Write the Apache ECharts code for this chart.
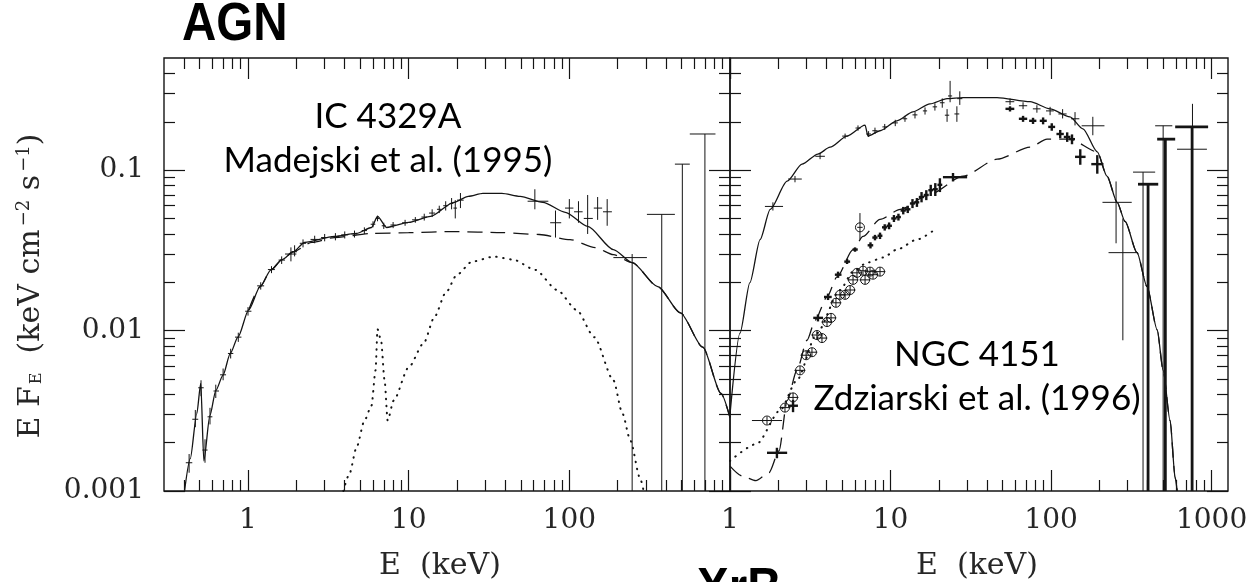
<!DOCTYPE html>
<html>
<head>
<meta charset="utf-8">
<script src="https://cdn.jsdelivr.net/npm/echarts@6/dist/echarts.min.js"></script>
<style>
  html, body { margin: 0; padding: 0; background: #fff; }
  #chart { width: 1252px; height: 582px; }
</style>
</head>
<body>
<div id="chart"></div>
<script>
// ---------- axis ranges and tick labels ----------
const leftEnergyRange = [0.3, 1000];
const rightEnergyRange = [1, 1265];
const fluxRange = [0.001, 0.5];
const leftEnergyLabels = [1, 10, 100];
const rightEnergyLabels = [1, 10, 100, 1000];
const fluxLabels = [0.001, 0.01, 0.1];

// ---------- IC 4329A : model curves [E (keV), E F_E] ----------
const icTotal = [
  [0.40, 0.00095], [0.437, 0.00159], [0.48, 0.00304], [0.508, 0.00469], [0.531, 0.00154],
  [0.579, 0.00295], [0.631, 0.00424], [0.698, 0.00526], [0.777, 0.00723], [0.866, 0.0091],
  [1.01, 0.01345], [1.19, 0.01877], [1.39, 0.0239], [1.63, 0.0277], [1.91, 0.031],
  [2.25, 0.0354], [3.45, 0.0386], [4.73, 0.0403], [5.87, 0.0439], [6.4, 0.0515],
  [7.29, 0.0439], [10, 0.0472], [13.7, 0.0515], [19.1, 0.063], [23.5, 0.0687],
  [29, 0.0717], [38, 0.0717], [49.4, 0.0687], [68.4, 0.063], [94.4, 0.0546],
  [130, 0.0446], [188, 0.032], [246, 0.0265], [355, 0.0188], [491, 0.0129],
  [677, 0.00788], [879, 0.00406], [1000, 0.00287]
];
const icContinuum = [
  [1.01, 0.01345], [1.19, 0.01877], [1.39, 0.0239], [1.63, 0.0277], [1.91, 0.031],
  [2.5, 0.0355], [3.45, 0.038], [5.87, 0.0403], [10, 0.0408], [19.1, 0.0414],
  [38, 0.0408], [65, 0.0397], [101, 0.0369], [145, 0.0329], [188, 0.0297],
  [246, 0.0265], [355, 0.0188], [491, 0.0129], [677, 0.00788], [879, 0.00406], [1000, 0.00287]
];
const icReflection = [
  [3.92, 0.001], [4.28, 0.00128], [4.73, 0.00186], [5.31, 0.00275], [5.87, 0.00341],
  [6.22, 0.00565], [6.4, 0.0102], [6.73, 0.0087], [7.08, 0.0049], [7.4, 0.00275],
  [8.06, 0.00366], [10, 0.0059], [12.4, 0.00835], [14.5, 0.0122], [17, 0.0172],
  [20, 0.0223], [24.8, 0.0269], [34, 0.0289], [44.7, 0.0277], [61.3, 0.0239],
  [84, 0.0179], [111, 0.01345], [143, 0.0091], [188, 0.0049], [214, 0.00304],
  [240, 0.00206], [275, 0.00121], [290, 0.001]
];

// ---------- IC 4329A : measurements [E, F, E low, E high, F low, F high] ----------
const icSoftData = [
  [0.43, 0.0015, 0.41, 0.45, 0.0013, 0.0017], [0.47, 0.0028, 0.45, 0.49, 0.0025, 0.0032],
  [0.51, 0.0044, 0.49, 0.53, 0.0039, 0.0049], [0.54, 0.0018, 0.52, 0.56, 0.0015, 0.0021],
  [0.58, 0.0029, 0.56, 0.60, 0.0026, 0.0033], [0.63, 0.0042, 0.61, 0.66, 0.0038, 0.0046],
  [0.70, 0.0053, 0.67, 0.73, 0.0049, 0.0058], [0.78, 0.0072, 0.75, 0.81, 0.0067, 0.0077],
  [0.87, 0.0091, 0.83, 0.91, 0.0085, 0.0097], [1.0, 0.0132, 0.96, 1.05, 0.0124, 0.014],
  [1.2, 0.019, 1.14, 1.26, 0.018, 0.020], [1.4, 0.024, 1.33, 1.47, 0.0228, 0.0252],
  [1.62, 0.0275, 1.55, 1.7, 0.026, 0.029], [1.85, 0.030, 1.70, 2.0, 0.027, 0.033],
  [1.95, 0.031, 1.90, 2.02, 0.029, 0.034], [2.2, 0.035, 2.1, 2.3, 0.033, 0.037],
  [2.6, 0.037, 2.45, 2.75, 0.035, 0.039], [3.0, 0.038, 2.85, 3.15, 0.036, 0.040],
  [3.5, 0.0385, 3.3, 3.7, 0.0365, 0.0405], [4.0, 0.0395, 3.8, 4.2, 0.0375, 0.0415],
  [4.6, 0.040, 4.4, 4.8, 0.038, 0.042], [5.3, 0.042, 5.1, 5.5, 0.040, 0.044],
  [6.0, 0.046, 5.8, 6.2, 0.044, 0.048], [6.4, 0.050, 6.25, 6.55, 0.048, 0.052],
  [7.0, 0.045, 6.8, 7.2, 0.043, 0.047], [8.0, 0.0455, 7.7, 8.3, 0.0435, 0.0475],
  [9.5, 0.047, 9.1, 9.9, 0.045, 0.049], [11, 0.049, 10.5, 11.5, 0.047, 0.051],
  [12.5, 0.051, 12, 13, 0.0485, 0.0535], [14, 0.054, 13.4, 14.6, 0.051, 0.057],
  [15.5, 0.057, 15, 16, 0.054, 0.060], [17, 0.060, 16.4, 17.6, 0.056, 0.064],
  [18.5, 0.062, 18, 19, 0.057, 0.067], [19.5, 0.058, 19, 20, 0.050, 0.065],
  [21, 0.065, 20, 22, 0.058, 0.072]
];
const icHardData = [
  [61, 0.064, 55, 74, 0.057, 0.076], [82, 0.047, 76, 89, 0.038, 0.056],
  [100, 0.058, 94, 106, 0.050, 0.066], [114, 0.055, 107, 121, 0.047, 0.064],
  [130, 0.050, 123, 140, 0.040, 0.070], [150, 0.058, 142, 160, 0.049, 0.068],
  [172, 0.055, 162, 184, 0.045, 0.066]
];
const icUpperLimits = [
  [246, 0.0285, 188, 304, 0.001, 0.030], [376, 0.053, 304, 454, 0.001, 0.053],
  [505, 0.109, 454, 562, 0.001, 0.109], [698, 0.168, 562, 812, 0.001, 0.168]
];

// ---------- NGC 4151 : model curves ----------
const ngcTotal = [
  [1.0, 0.0030], [1.154, 0.00964], [1.33, 0.0199], [1.54, 0.0369], [1.78, 0.0569],
  [2.27, 0.0853], [2.81, 0.109], [3.53, 0.126], [4.2, 0.139], [5.36, 0.163],
  [6.94, 0.191], [7.24, 0.163], [8.6, 0.176], [10.97, 0.203], [13.8, 0.231],
  [17.6, 0.259], [22.5, 0.279], [28.3, 0.283], [46.1, 0.283], [74, 0.267],
  [98.6, 0.241], [131, 0.215], [158, 0.181], [194, 0.13], [223, 0.0917],
  [258, 0.063], [289, 0.0479], [343, 0.0306], [396, 0.0188], [458, 0.0101],
  [499, 0.00565], [551, 0.00275], [593, 0.00121], [610, 0.001]
];
const ngcAbsorbed = [
  [1.0, 0.00143], [1.19, 0.00124], [1.45, 0.00116], [1.75, 0.0013], [2.02, 0.00178],
  [2.27, 0.00366], [2.61, 0.00565], [3.02, 0.0087], [3.39, 0.0116], [4.02, 0.0162],
  [4.64, 0.0216], [5.84, 0.032], [6.74, 0.0386], [8.6, 0.0493], [11.5, 0.0569],
  [17.6, 0.0708], [28.3, 0.0917], [46.1, 0.117], [74, 0.139], [94.4, 0.156],
  [131, 0.156], [194, 0.13], [223, 0.0917], [258, 0.063], [289, 0.0479],
  [343, 0.0306], [396, 0.0188], [458, 0.0101], [499, 0.00565], [551, 0.00275],
  [593, 0.00121], [610, 0.001]
];
const ngcSoft = [
  [1.0, 0.00154], [1.47, 0.00197], [2.05, 0.00318], [2.61, 0.0049], [3.48, 0.00964],
  [4.84, 0.0179], [5.84, 0.0233], [7.14, 0.0265], [8.98, 0.0285], [10.97, 0.032],
  [14.6, 0.0369], [18.9, 0.0427]
];

// ---------- NGC 4151 : measurements [E, F, E low, E high, F low, F high] ----------
const ngcHighData = [
  [1.85, 0.0594, 1.65, 2.14, 0.056, 0.063], [2.54, 0.088, 2.3, 2.8, 0.084, 0.092],
  [3.64, 0.122, 3.4, 3.9, 0.117, 0.127], [5.21, 0.163, 5.0, 5.45, 0.157, 0.169],
  [6.27, 0.183, 6.05, 6.5, 0.176, 0.19], [7.3, 0.168, 7.05, 7.55, 0.161, 0.175],
  [8.0, 0.176, 7.7, 8.3, 0.168, 0.184], [9.2, 0.186, 8.9, 9.5, 0.178, 0.194],
  [10.7, 0.197, 10.3, 11.1, 0.188, 0.206], [12.3, 0.209, 11.9, 12.7, 0.2, 0.218],
  [14.2, 0.221, 13.7, 14.7, 0.21, 0.232], [16.4, 0.234, 15.9, 16.9, 0.222, 0.246],
  [18.9, 0.248, 18.3, 19.5, 0.235, 0.261], [21, 0.263, 20.3, 21.7, 0.245, 0.28],
  [22.5, 0.22, 21.8, 23.2, 0.2, 0.24], [23.5, 0.29, 22.8, 24.2, 0.265, 0.36],
  [25.9, 0.224, 25, 26.8, 0.2, 0.25], [27, 0.279, 26, 28, 0.255, 0.31],
  [55.5, 0.267, 52, 59, 0.255, 0.28], [66.9, 0.252, 63, 71, 0.24, 0.265],
  [81.6, 0.241, 77, 86, 0.228, 0.254], [98.6, 0.234, 93, 104, 0.22, 0.248],
  [118, 0.224, 111, 125, 0.21, 0.24], [141, 0.209, 133, 150, 0.19, 0.23],
  [182, 0.189, 155, 215, 0.165, 0.215], [254, 0.063, 209, 318, 0.035, 0.085],
  [280, 0.0306, 228, 347, 0.0087, 0.05]
];
const ngcHighLimits = [
  [374, 0.0972, 324, 445, 0.001, 0.0972], [499, 0.189, 445, 569, 0.001, 0.189],
  [760, 0.135, 609, 935, 0.001, 0.259]
];
const ngcLowData = [
  [1.96, 0.00173, 1.70, 2.27, 0.0016, 0.00186], [2.47, 0.0034, 2.3, 2.65, 0.0031, 0.0037],
  [3.53, 0.012, 3.3, 3.8, 0.0114, 0.0126], [4.08, 0.0162, 3.85, 4.3, 0.0155, 0.017],
  [4.71, 0.0223, 4.5, 4.95, 0.0213, 0.0233], [5.36, 0.0269, 5.15, 5.6, 0.026, 0.028],
  [6.01, 0.032, 5.8, 6.25, 0.031, 0.033], [7.5, 0.034, 7.2, 7.8, 0.0325, 0.0355],
  [8.0, 0.038, 7.7, 8.3, 0.0365, 0.0395], [8.6, 0.039, 8.3, 8.9, 0.0372, 0.0408],
  [9.2, 0.044, 8.85, 9.55, 0.042, 0.046], [9.8, 0.045, 9.45, 10.2, 0.0428, 0.0472],
  [10.5, 0.050, 10.1, 10.9, 0.0475, 0.0525], [11.2, 0.051, 10.8, 11.6, 0.0485, 0.0535],
  [12.0, 0.056, 11.55, 12.45, 0.053, 0.059], [12.8, 0.057, 12.3, 13.3, 0.054, 0.060],
  [13.7, 0.062, 13.2, 14.2, 0.058, 0.066], [14.6, 0.063, 14.1, 15.1, 0.059, 0.067],
  [15.6, 0.068, 15.0, 16.2, 0.063, 0.073], [16.7, 0.070, 16.1, 17.3, 0.065, 0.075],
  [17.8, 0.075, 17.2, 18.4, 0.069, 0.081], [19.0, 0.076, 18.3, 19.7, 0.069, 0.083],
  [20.3, 0.081, 19.6, 21.0, 0.073, 0.089], [24.5, 0.0904, 21.2, 30, 0.085, 0.096],
  [55.5, 0.241, 52, 59, 0.232, 0.25], [66.9, 0.209, 63, 71, 0.2, 0.218],
  [77.2, 0.203, 73, 81, 0.194, 0.212], [89.2, 0.203, 85, 94, 0.193, 0.213],
  [101, 0.186, 96, 106, 0.176, 0.196], [114, 0.168, 108, 120, 0.158, 0.178],
  [126, 0.161, 120, 132, 0.15, 0.172], [135, 0.156, 129, 141, 0.145, 0.167],
  [152, 0.121, 141, 164, 0.108, 0.135], [194, 0.109, 178, 212, 0.095, 0.124]
];
const ngcLowLimits = [
  [402, 0.0817, 348, 465, 0.001, 0.0817], [515, 0.156, 458, 593, 0.001, 0.156],
  [756, 0.186, 593, 951, 0.001, 0.186]
];
const ngcSoftData = [
  [1.70, 0.00275, 1.37, 2.11, 0.0026, 0.0029], [2.2, 0.00331, 2.03, 2.38, 0.0031, 0.0035],
  [2.47, 0.00383, 2.28, 2.67, 0.0036, 0.0041], [2.73, 0.00565, 2.52, 2.95, 0.0053, 0.006],
  [2.98, 0.00702, 2.75, 3.22, 0.0066, 0.0075], [3.24, 0.00733, 2.99, 3.5, 0.0069, 0.0078],
  [3.48, 0.00938, 3.21, 3.76, 0.0088, 0.01], [3.74, 0.00898, 3.45, 4.04, 0.0084, 0.0096],
  [4.02, 0.0113, 3.71, 4.34, 0.0106, 0.012], [4.26, 0.012, 3.93, 4.6, 0.0113, 0.0128],
  [4.57, 0.0149, 4.22, 4.94, 0.014, 0.0159], [4.84, 0.0167, 4.47, 5.23, 0.0157, 0.0178],
  [5.21, 0.0167, 4.81, 5.63, 0.0157, 0.0178], [5.6, 0.0179, 5.17, 6.05, 0.0168, 0.0191],
  [5.84, 0.0207, 5.39, 6.31, 0.0195, 0.022], [6.18, 0.0229, 5.71, 6.67, 0.0215, 0.0244],
  [6.45, 0.044, 6.2, 6.7, 0.037, 0.054], [6.74, 0.0236, 6.22, 7.28, 0.0222, 0.0251],
  [6.94, 0.0207, 6.41, 7.5, 0.0195, 0.022], [7.45, 0.0233, 6.88, 8.05, 0.0219, 0.0248],
  [7.78, 0.0223, 7.18, 8.4, 0.021, 0.0237], [8.6, 0.0233, 7.94, 9.29, 0.0219, 0.0248]
];

// ---------- helpers ----------
const INK = '#141414';
const LABEL_INK = '#262626';
const SERIF = '"DejaVu Serif", serif';
const log10 = Math.log10;

function minorTicks(lo, hi) {
  const out = [];
  for (let d = -4; d <= 4; d++) {
    for (let m = 2; m <= 9; m++) {
      const v = m * Math.pow(10, d);
      if (v > lo * 1.0001 && v < hi * 0.9999) out.push(log10(v));
    }
  }
  return out;
}
function majorTicks(lo, hi) {
  const out = [];
  for (let d = -4; d <= 4; d++) {
    const v = Math.pow(10, d);
    if (v >= lo && v <= hi) out.push(d);
  }
  return out;
}
function energyText(v) { return String(Math.round(Math.pow(10, v))); }
function fluxText(v) { return Math.pow(10, v).toFixed(Math.max(0, -Math.round(v))); }

// Tick-only companion axis (in decades) laid over a log data axis
function tickAxis(gridIndex, position, range, major, labels, formatter) {
  const ticks = major ? majorTicks(range[0], range[1]) : minorTicks(range[0], range[1]);
  return {
    type: 'value', gridIndex, position,
    min: log10(range[0]), max: log10(range[1]),
    axisLine: { show: false, onZero: false }, splitLine: { show: false },
    axisTick: { show: true, inside: true, length: major ? 21 : 11, customValues: ticks,
                lineStyle: { color: INK, width: 1.2 } },
    axisLabel: labels ? {
      show: true, customValues: labels.map(log10), formatter,
      fontFamily: SERIF, fontSize: 28, color: LABEL_INK,
      margin: position === 'left' ? 20 : 16
    } : { show: false }
  };
}
function dataAxis(gridIndex, range) {
  return { type: 'log', logBase: 10, gridIndex, min: range[0], max: range[1], show: false,
           axisLine: { onZero: false } };
}

function errorBars(width, circleR) {
  return function (params, api) {
    const E = api.value(0), F = api.value(1);
    const a = api.coord([api.value(2), F]), b = api.coord([api.value(3), F]);
    const c = api.coord([E, api.value(4)]), d = api.coord([E, api.value(5)]);
    const style = { stroke: INK, lineWidth: width, fill: null };
    const children = [
      { type: 'line', shape: { x1: a[0], y1: a[1], x2: b[0], y2: b[1] }, style },
      { type: 'line', shape: { x1: c[0], y1: c[1], x2: d[0], y2: d[1] }, style }
    ];
    if (circleR) {
      const p = api.coord([E, F]);
      children.push({ type: 'circle', shape: { cx: p[0], cy: p[1], r: circleR },
                      style: { stroke: INK, lineWidth: 1, fill: null } });
    }
    return { type: 'group', children };
  };
}
function curve(axisIdx, data, kind) {
  const lineStyle = { color: INK, width: 1.3 };
  if (kind === 'dashed') { lineStyle.type = [15, 8]; }
  if (kind === 'dotted') { lineStyle.type = [0.5, 6.5]; lineStyle.cap = 'round'; lineStyle.width = 2; }
  return {
    type: 'line', xAxisIndex: axisIdx, yAxisIndex: axisIdx, data,
    showSymbol: false, symbol: 'none', smooth: 0.25, smoothMonotone: 'x',
    lineStyle, silent: true, animation: false, z: 3
  };
}
function points(axisIdx, data, width, circleR) {
  return {
    type: 'custom', xAxisIndex: axisIdx, yAxisIndex: axisIdx, data,
    encode: { x: 0, y: 1 }, renderItem: errorBars(width, circleR),
    silent: true, animation: false, z: 4
  };
}

const chart = echarts.init(document.getElementById('chart'), null, { renderer: 'canvas' });

const gridStyle = { show: true, borderColor: INK, borderWidth: 1.4, backgroundColor: 'transparent' };
const annotationFont = '35px Lato, "Open Sans", sans-serif';
const headingFont = 'bold 54px "Liberation Sans", Arial, sans-serif';

chart.setOption({
  animation: false,
  backgroundColor: '#ffffff',
  grid: [
    Object.assign({ left: 164, top: 58, width: 566, height: 433 }, gridStyle),
    Object.assign({ left: 730, top: 58, width: 498, height: 433 }, gridStyle)
  ],
  xAxis: [
    dataAxis(0, leftEnergyRange),
    tickAxis(0, 'bottom', leftEnergyRange, true, leftEnergyLabels, energyText),
    tickAxis(0, 'bottom', leftEnergyRange, false),
    tickAxis(0, 'top', leftEnergyRange, true),
    tickAxis(0, 'top', leftEnergyRange, false),
    dataAxis(1, rightEnergyRange),
    tickAxis(1, 'bottom', rightEnergyRange, true, rightEnergyLabels, energyText),
    tickAxis(1, 'bottom', rightEnergyRange, false),
    tickAxis(1, 'top', rightEnergyRange, true),
    tickAxis(1, 'top', rightEnergyRange, false)
  ],
  yAxis: [
    dataAxis(0, fluxRange),
    tickAxis(0, 'left', fluxRange, true, fluxLabels, fluxText),
    tickAxis(0, 'left', fluxRange, false),
    tickAxis(0, 'right', fluxRange, true),
    tickAxis(0, 'right', fluxRange, false),
    dataAxis(1, fluxRange),
    tickAxis(1, 'left', fluxRange, true),
    tickAxis(1, 'left', fluxRange, false),
    tickAxis(1, 'right', fluxRange, true),
    tickAxis(1, 'right', fluxRange, false)
  ],
  series: [
    curve(0, icTotal, 'solid'),
    curve(0, icContinuum, 'dashed'),
    curve(0, icReflection, 'dotted'),
    points(0, icSoftData, 1),
    points(0, icHardData, 1),
    points(0, icUpperLimits, 1),
    curve(5, ngcTotal, 'solid'),
    curve(5, ngcAbsorbed, 'dashed'),
    curve(5, ngcSoft, 'dotted'),
    points(5, ngcHighData, 1),
    points(5, ngcHighLimits, 1),
    points(5, ngcLowData, 2.4),
    points(5, ngcLowLimits, 2.8),
    points(5, ngcSoftData, 1, 4.5)
  ],
  graphic: [
    { type: 'text', x: 182, y: 25, scaleX: 0.88,
      style: { text: 'AGN', font: headingFont, fill: '#000', align: 'left', verticalAlign: 'middle' } },
    { type: 'text', x: 697, y: 590, scaleX: 0.88,
      style: { text: 'XrB', font: headingFont, fill: '#000', align: 'left', verticalAlign: 'middle' } },
    { type: 'text', x: 388, y: 117,
      style: { text: 'IC 4329A', font: annotationFont, fill: '#000', align: 'center', verticalAlign: 'middle' } },
    { type: 'text', x: 388, y: 161,
      style: { text: 'Madejski et al. (1995)', font: annotationFont, fill: '#000', align: 'center', verticalAlign: 'middle' } },
    { type: 'text', x: 977, y: 355,
      style: { text: 'NGC 4151', font: annotationFont, fill: '#000', align: 'center', verticalAlign: 'middle' } },
    { type: 'text', x: 977, y: 399,
      style: { text: 'Zdziarski et al. (1996)', font: annotationFont, fill: '#000', align: 'center', verticalAlign: 'middle' } },
    { type: 'text', x: 440, y: 566,
      style: { text: 'E  (keV)', font: '30px ' + SERIF, fill: LABEL_INK, align: 'center', verticalAlign: 'middle' } },
    { type: 'text', x: 977, y: 566,
      style: { text: 'E  (keV)', font: '30px ' + SERIF, fill: LABEL_INK, align: 'center', verticalAlign: 'middle' } },
    { type: 'text', x: 31, y: 286, rotation: Math.PI / 2,
      style: {
        text: '{m|E F}{sub|E}{m|  (keV cm}{sup|\u22122}{m| s}{sup|\u22121}{m|)}',
        align: 'center', verticalAlign: 'middle', fill: LABEL_INK,
        rich: {
          m: { fontFamily: SERIF, fontSize: 30, lineHeight: 42, verticalAlign: 'middle', fill: LABEL_INK },
          sub: { fontFamily: SERIF, fontSize: 16, lineHeight: 16, verticalAlign: 'bottom', padding: [0, 0, 7, 2], fill: LABEL_INK },
          sup: { fontFamily: SERIF, fontSize: 18, lineHeight: 18, verticalAlign: 'top', padding: [5, 0, 0, 3], fill: LABEL_INK }
        }
      } }
  ]
});
</script>
</body>
</html>
